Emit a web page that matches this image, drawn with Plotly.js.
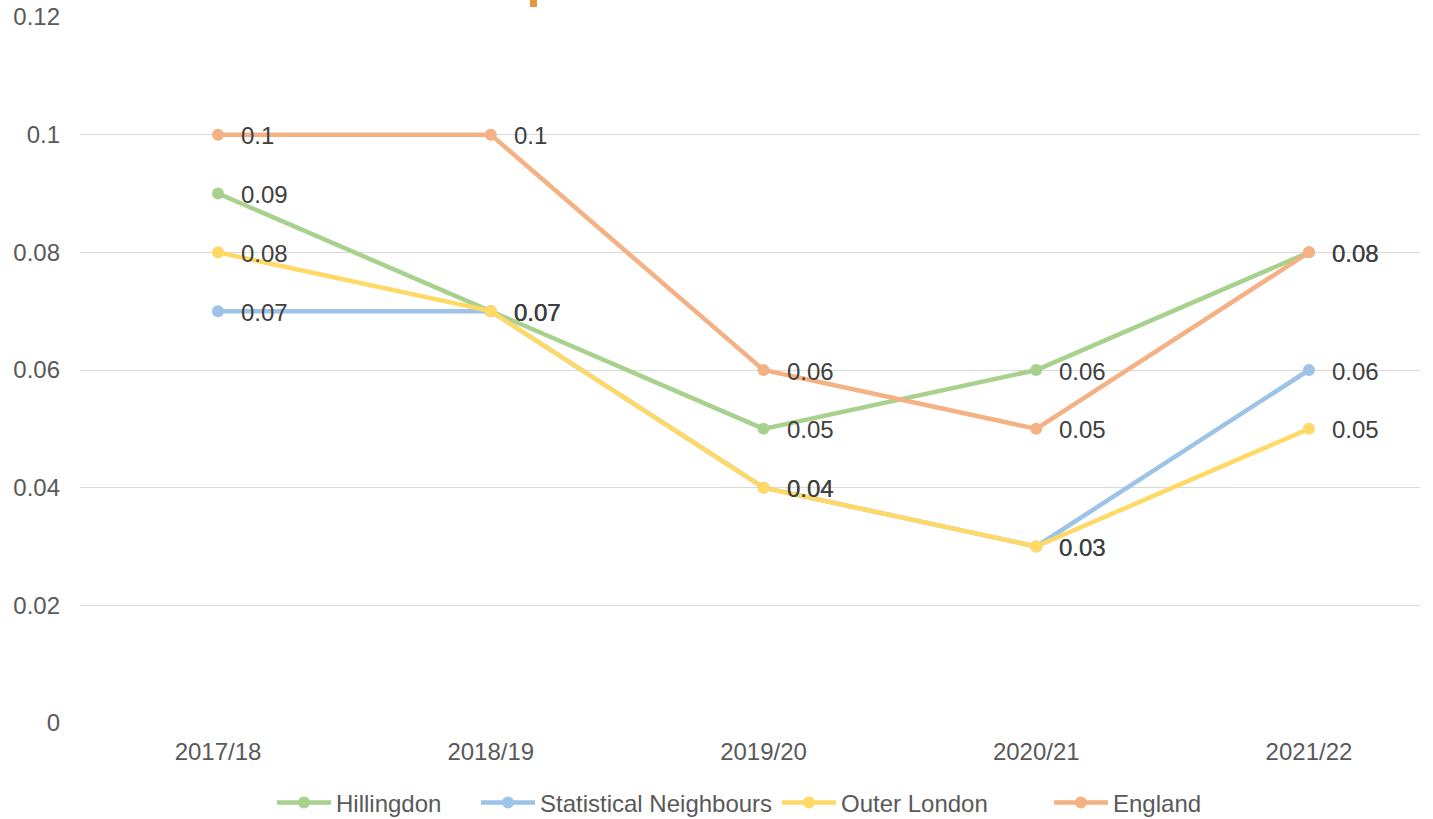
<!DOCTYPE html>
<html>
<head>
<meta charset="utf-8">
<script src="https://cdn.plot.ly/plotly-3.0.1.min.js"></script>
<style>html,body{margin:0;padding:0;background:#fff;}#chart{width:1433px;height:819px;}</style>
</head>
<body>
<div id="chart"></div>
<script>
const categories = ["2017/18", "2018/19", "2019/20", "2020/21", "2021/22"];
const hillingdon = [0.09, 0.07, 0.05, 0.06, 0.08];
const statNeighbours = [0.07, 0.07, 0.04, 0.03, 0.06];
const outerLondon = [0.08, 0.07, 0.04, 0.03, 0.05];
const england = [0.1, 0.1, 0.06, 0.05, 0.08];
const seriesNames = ["Hillingdon", "Statistical Neighbours", "Outer London", "England"];
const yTicks = [0, 0.02, 0.04, 0.06, 0.08, 0.1, 0.12];
const yTickText = ["0", "0.02", "0.04", "0.06", "0.08", "0.1", "0.12"];

const colors = ["#A9D18E", "#9DC3E6", "#FFD966", "#F4B183"];
const allSeries = [hillingdon, statNeighbours, outerLondon, england];
const xIdx = categories.map((c, i) => i);
const legendIds = ["legend", "legend2", "legend3", "legend4"];
// left pixel of each legend entry (layout), converted to paper coords
const legendLeftPx = [272, 476, 777, 1049];
const plotL = 80, plotR = 1420;

const traces = allSeries.map((vals, k) => ({
  x: xIdx, y: vals, name: seriesNames[k], type: "scatter", mode: "lines+markers",
  line: {color: colors[k], width: 4.5},
  marker: {color: colors[k], size: 12},
  legend: legendIds[k],
  hoverinfo: "none"
}));

const labelFont = {family: "Liberation Sans, Arial, sans-serif", size: 24, color: "#404040"};
const annotations = [];
allSeries.forEach((vals, k) => {
  vals.forEach((v, i) => {
    annotations.push({
      x: i, y: v, xref: "x", yref: "y", text: String(v), showarrow: false,
      xanchor: "left", yanchor: "middle", xshift: 21, yshift: -1,
      font: labelFont
    });
  });
});

const layout = {
  width: 1433, height: 819,
  margin: {l: plotL, r: 1433 - plotR, t: 17, b: 96, autoexpand: false},
  paper_bgcolor: "#fff", plot_bgcolor: "#fff",
  font: {family: "Liberation Sans, Arial, sans-serif", size: 24, color: "#595959"},
  xaxis: {
    range: [-0.506, 4.407], tickmode: "array", tickvals: xIdx, ticktext: categories,
    showgrid: false, zeroline: false, showline: false, ticks: "",
    ticklabelstandoff: 12, tickfont: {size: 24, color: "#595959"}
  },
  yaxis: {
    range: [0, 0.12], tickmode: "array", tickvals: yTicks, ticktext: yTickText,
    showgrid: true, gridcolor: "#D9D9D9", gridwidth: 1, zeroline: false, showline: false,
    ticks: "", ticklabelstandoff: 19, tickfont: {size: 24, color: "#595959"}
  },
  showlegend: true,
  annotations: annotations,
  shapes: [{
    type: "rect", xref: "paper", yref: "paper", x0: 0.3358, x1: 0.341, y0: 1.0142, y1: 1.03,
    fillcolor: "#E8963A", line: {width: 0}
  }]
};

legendIds.forEach((id, k) => {
  layout[id] = {
    orientation: "h", x: (legendLeftPx[k] - plotL) / (plotR - plotL), xanchor: "left",
    y: (723 - 803) / 706, yanchor: "middle",
    font: {size: 24, color: "#595959"}, itemwidth: 54, bgcolor: "rgba(0,0,0,0)"
  };
});

Plotly.newPlot("chart", traces, layout, {displayModeBar: false, staticPlot: true});
</script>
</body>
</html>
